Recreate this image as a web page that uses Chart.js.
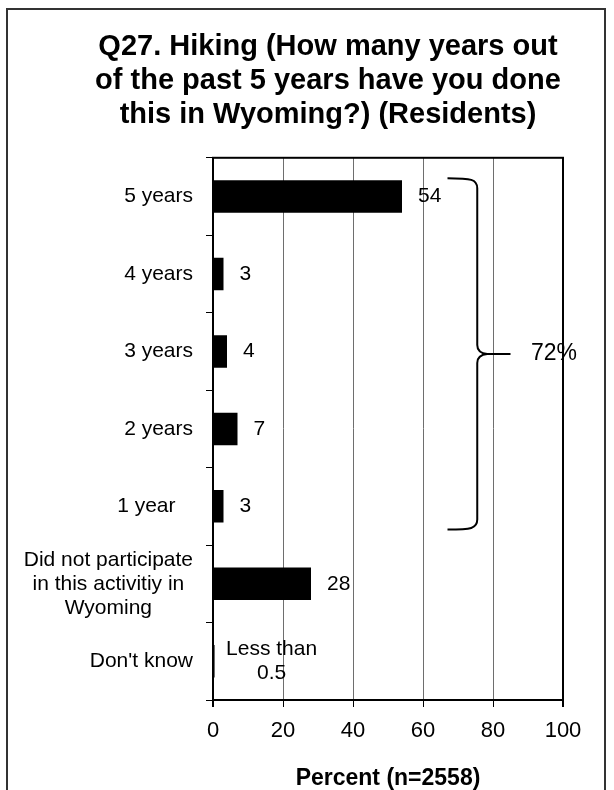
<!DOCTYPE html>
<html>
<head>
<meta charset="utf-8">
<script src="https://cdn.jsdelivr.net/npm/chart.js@4"></script>
<style>
  body { margin: 0; background: #fff; }
  #frame { position: absolute; left: 6px; top: 8px; width: 596px; height: 800px; border: 2px solid #333; border-bottom: none; }
  #chart { position: absolute; left: 0; top: 0; }
</style>
</head>
<body>
<div id="frame"></div>
<canvas id="chart" width="614" height="790"></canvas>
<script>
// --- Survey data ---
const categories = ['5 years', '4 years', '3 years', '2 years', '1 year   ',
    ['Did not participate', 'in this activitiy in', 'Wyoming'], "Don't know"];
const percents = [54, 3, 4, 7, 3, 28, 0.45];
const valueLabels = ['54', '3', '4', '7', '3', '28', ['Less than', '0.5']];
const xTicks = [0, 20, 40, 60, 80, 100];
const titleLines = ['Q27. Hiking (How many years out', 'of the past 5 years have you done', 'this in Wyoming?) (Residents)'];
const axisTitle = 'Percent (n=2558)';
// brace groups "1 year" .. "5 years"
const braceFrom = 0, braceTo = 4, braceLabel = '72%';

const FONT = '"Liberation Sans", Arial, sans-serif';

// category labels drawn by hand so the wrapped one can be centred as a block
const categoryLabels = {
    id: 'categoryLabels',
    afterDraw(chart){
        const ctx = chart.ctx, y = chart.scales.y;
        const rightX = chart.chartArea.left - 20;
        ctx.save();
        ctx.font = '21px ' + FONT;
        ctx.fillStyle = '#000';
        ctx.textAlign = 'center';
        ctx.textBaseline = 'middle';
        categories.forEach((label, i) => {
            const lines = Array.isArray(label) ? label : [label];
            const w = Math.max(...lines.map(l => ctx.measureText(l).width));
            const cy = y.getPixelForValue(i);
            lines.forEach((l, j) => {
                ctx.fillText(l, rightX - w / 2, cy + (j - (lines.length - 1) / 2) * 24);
            });
        });
        ctx.restore();
    }
};

// value labels beside each bar
const valueText = {
    id: 'valueText',
    afterDatasetsDraw(chart){
        const ctx = chart.ctx;
        const bars = chart.getDatasetMeta(0).data;
        ctx.save();
        ctx.font = '21px ' + FONT;
        ctx.fillStyle = '#000';
        ctx.textBaseline = 'middle';
        bars.forEach((bar, i) => {
            const label = valueLabels[i];
            if (Array.isArray(label)) {
                ctx.textAlign = 'center';
                label.forEach((l, j) => {
                    ctx.fillText(l, bar.x + 57, bar.y + (j - (label.length - 1) / 2) * 24);
                });
            } else {
                ctx.textAlign = 'left';
                ctx.fillText(label, bar.x + 16, bar.y);
            }
        });
        ctx.restore();
    }
};

// box round the plot and the curly brace with its total
const frameAndBrace = {
    id: 'frameAndBrace',
    afterDraw(chart){
        const ctx = chart.ctx, a = chart.chartArea, x = chart.scales.x;
        const bars = chart.getDatasetMeta(0).data;
        ctx.save();
        ctx.strokeStyle = '#000';
        ctx.lineWidth = 2;
        ctx.strokeRect(a.left, a.top, a.right - a.left, a.bottom - a.top);

        const top = bars[braceFrom].y - bars[braceFrom].height / 2 - 2;
        const bottom = bars[braceTo].y + bars[braceTo].height / 2 + 7;
        const mid = (top + bottom) / 2;
        const xL = x.getPixelForValue(67), xV = x.getPixelForValue(75.5), xT = x.getPixelForValue(85);
        ctx.lineWidth = 2;
        ctx.beginPath();
        ctx.moveTo(xL, top);
        ctx.bezierCurveTo(xV - 6, top, xV, top + 1, xV, top + 10);
        ctx.lineTo(xV, mid - 9);
        ctx.quadraticCurveTo(xV, mid - 1, xV + 10, mid);
        ctx.lineTo(xT, mid);
        ctx.moveTo(xV + 10, mid);
        ctx.quadraticCurveTo(xV, mid + 1, xV, mid + 9);
        ctx.lineTo(xV, bottom - 10);
        ctx.bezierCurveTo(xV, bottom - 1, xV - 6, bottom, xL, bottom);
        ctx.stroke();

        ctx.font = '23px ' + FONT;
        ctx.fillStyle = '#000';
        ctx.textAlign = 'center';
        ctx.textBaseline = 'middle';
        ctx.fillText(braceLabel, x.getPixelForValue(97.4), mid);
        ctx.restore();
    }
};

new Chart(document.getElementById('chart'), {
    type: 'bar',
    data: {
        labels: categories,
        datasets: [{
            data: percents,
            backgroundColor: '#000',
            barPercentage: 0.42,
            categoryPercentage: 1
        }]
    },
    options: {
        indexAxis: 'y',
        responsive: false,
        animation: false,
        layout: { padding: { top: 30, left: 93, right: 51, bottom: 0 } },
        scales: {
            x: {
                min: 0,
                max: 100,
                afterBuildTicks: s => { s.ticks = xTicks.map(v => ({value: v})); },
                ticks: { font: { size: 22, family: FONT }, color: '#000', padding: 11 },
                grid: {
                    color: c => (c.tick && (c.tick.value === 0 || c.tick.value === 100)) ? '#000' : '#6e6e6e',
                    lineWidth: c => (c.tick && (c.tick.value === 0 || c.tick.value === 100)) ? 2 : 1,
                    tickColor: '#000',
                    tickLength: 7
                },
                border: { color: '#000', width: 2 },
                title: {
                    display: true,
                    text: axisTitle,
                    font: { size: 23, weight: 'bold', family: FONT, lineHeight: 0.95 },
                    color: '#000',
                    padding: 0
                },
                afterFit: s => { s.height = 90; }
            },
            y: {
                ticks: { display: false },
                grid: { offset: true, drawOnChartArea: false, color: '#000', tickLength: 7 },
                border: { color: '#000', width: 2 },
                afterFit: s => { s.width = 120; }
            }
        },
        plugins: {
            legend: { display: false },
            tooltip: { enabled: false },
            title: {
                display: true,
                text: titleLines,
                font: { size: 29, weight: 'bold', family: FONT, lineHeight: 1.17 },
                color: '#000',
                padding: { top: 0, bottom: 26 }
            }
        }
    },
    plugins: [categoryLabels, valueText, frameAndBrace]
});
</script>
</body>
</html>
